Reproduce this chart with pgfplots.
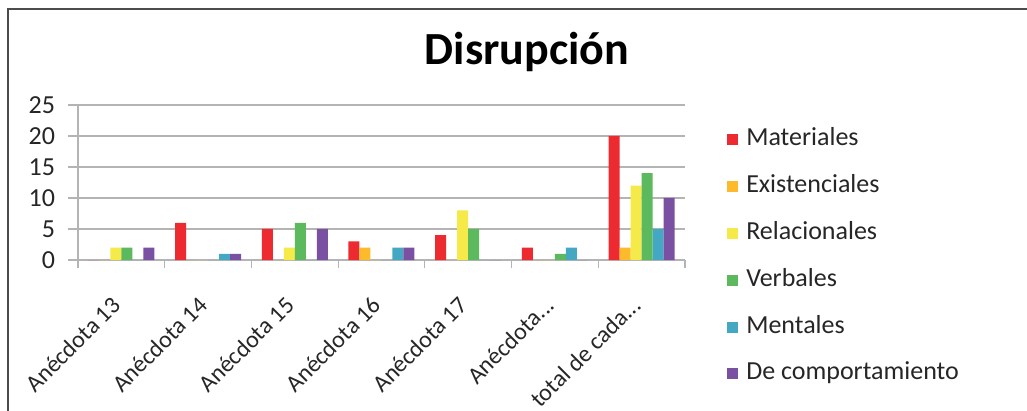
\documentclass[border=0pt]{standalone}
\usepackage{pgfplots}
\pgfplotsset{compat=1.18}
\usepackage{fontspec}
\setmainfont{Carlito}

\definecolor{cMat}{HTML}{EC2A30}
\definecolor{cExi}{HTML}{FDBA2C}
\definecolor{cRel}{HTML}{F5EA47}
\definecolor{cVer}{HTML}{5CB95E}
\definecolor{cMen}{HTML}{45A8C2}
\definecolor{cCom}{HTML}{7950A2}
\definecolor{gridgray}{HTML}{B4B4B4}
% truncated category names end with three dots, set a little further out
\newcommand{\dts}{.\kern0pt.\kern0pt.\hspace{-5pt}}

\begin{document}
\begin{tikzpicture}
\useasboundingbox (-39pt,-75.5pt) rectangle (474.5pt,130pt);
\draw[line width=1.2pt, black!70] (-35pt,-90pt) -- (-35pt,125.5pt) -- (490pt,125.5pt);

\begin{axis}[
  at={(0pt,0pt)}, anchor=south west,
  scale only axis,
  width=303.5pt, height=77.5pt,
  ybar=0pt, bar width=5.5pt,
  xmin=-0.5, xmax=6.5,
  ymin=0, ymax=25,
  ytick={0,5,10,15,20,25},
  xtick={0,1,2,3,4,5,6},
  xticklabels={Anécdota 13,Anécdota 14,Anécdota 15,Anécdota 16,Anécdota 17,{Anécdota\dts},{total de cada\dts}},
  minor xtick={-0.5,0.5,1.5,2.5,3.5,4.5,5.5,6.5},
  major x tick style={draw=none},
  tick align=outside,
  major tick length=5pt,
  minor tick length=4pt,
  tick style={gridgray, line width=0.6pt},
  axis lines*=left,
  axis line style={gridgray, line width=0.8pt, -},
  ymajorgrids,
  major grid style={gridgray, line width=0.8pt},
  every tick label/.style={text=black!85},
  /pgf/number format/assume math mode=true,
  xticklabel style={font=\fontsize{12}{14}\selectfont, xshift=0pt, yshift=-13pt, rotate=45, anchor=east},
  yticklabel style={font=\fontsize{13}{15}\selectfont, xshift=-3pt},
  legend style={at={(rel axis cs:1.069,0.02)}, anchor=west, draw=none, fill=none,
    inner sep=0pt, row sep=8.4pt, font=\fontsize{13}{15}\selectfont,
    nodes={inner sep=1.5pt, text height=9pt, text depth=3pt, text=black!85}},
  legend cell align=left,
  legend image code/.code={\fill[#1] (0pt,-2.75pt) rectangle (5.5pt,2.75pt);
    \path (8pt,0pt);},
]
\addplot[fill=cMat, draw=none] coordinates {(0,0) (1,6) (2,5) (3,3) (4,4) (5,2) (6,20)};
\addplot[fill=cExi, draw=none] coordinates {(0,0) (1,0) (2,0) (3,2) (4,0) (5,0) (6,2)};
\addplot[fill=cRel, draw=none] coordinates {(0,2) (1,0) (2,2) (3,0) (4,8) (5,0) (6,12)};
\addplot[fill=cVer, draw=none] coordinates {(0,2) (1,0) (2,6) (3,0) (4,5) (5,1) (6,14)};
\addplot[fill=cMen, draw=none] coordinates {(0,0) (1,1) (2,0) (3,2) (4,0) (5,2) (6,5)};
\addplot[fill=cCom, draw=none] coordinates {(0,2) (1,1) (2,5) (3,2) (4,0) (5,0) (6,10)};
\legend{Materiales,Existenciales,Relacionales,Verbales,Mentales,De comportamiento}
\end{axis}

\node[anchor=base, font=\bfseries\fontsize{23}{26}\selectfont] at (224.5pt,97.5pt) {Disrupción};
\end{tikzpicture}
\end{document}
